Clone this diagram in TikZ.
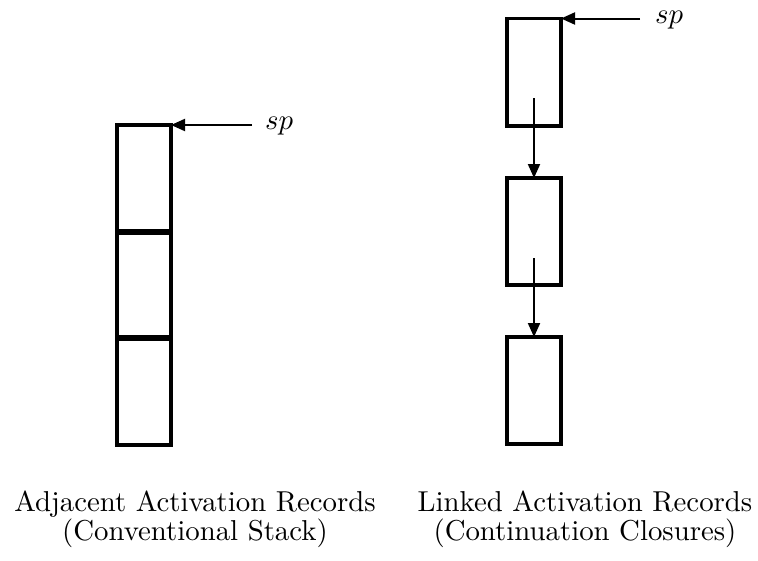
\documentclass[tikz,border=0pt]{standalone}
\usetikzlibrary{arrows.meta}
\begin{document}
\begin{tikzpicture}[x=1pt,y=-1pt,
  rec/.style={draw,line width=3.3pt,inner sep=0pt,outer sep=0pt,minimum width=54pt},
  div/.style={line width=5.5pt},
  ptr/.style={line width=2pt,-{Triangle[length=14pt,width=12pt]}},
  lbl/.style={inner sep=0pt,anchor=base},
  spl/.style={inner sep=0pt,anchor=base west}]
\useasboundingbox (0,0) rectangle (758,560);
% left stack
\node[rec,minimum height=320pt] (stack) at (144,285) {};
\coordinate (d1l) at (117,232); \coordinate (d1r) at (171,232);
\coordinate (d2l) at (117,338); \coordinate (d2r) at (171,338);
\draw[div] (d1l) -- (d1r);
\draw[div] (d2l) -- (d2r);
\node[spl] (spL) at (265,129) {\scalebox{2.88}{\fontsize{10}{10}\selectfont$sp$}};
\coordinate (spLs) at (252,125);
\draw[ptr] (spLs) -- (stack.north east);
% right linked records
\node[rec,minimum height=107.5pt] (r1) at (534,72.25) {};
\node[rec,minimum height=107pt] (r2) at (534,231.5) {};
\node[rec,minimum height=107pt] (r3) at (534,390.5) {};
\coordinate (a1) at (534,98);
\coordinate (a2) at (534,258);
\draw[ptr] (a1) -- (r2.north);
\draw[ptr] (a2) -- (r3.north);
\node[spl] (spR) at (655,23) {\scalebox{2.88}{\fontsize{10}{10}\selectfont$sp$}};
\coordinate (spRs) at (640,18.5);
\draw[ptr] (spRs) -- (r1.north east);
% labels
\node[lbl] (labL) at (195,511) {\scalebox{2.88}{\fontsize{10}{9.6}\selectfont\begin{tabular}[t]{@{}c@{}}Adjacent Activation Records\\(Conventional Stack)\end{tabular}}};
\node[lbl] (labR) at (585,511) {\scalebox{2.88}{\fontsize{10}{9.6}\selectfont\begin{tabular}[t]{@{}c@{}}Linked Activation Records\\(Continuation Closures)\end{tabular}}};
\end{tikzpicture}
\end{document}
